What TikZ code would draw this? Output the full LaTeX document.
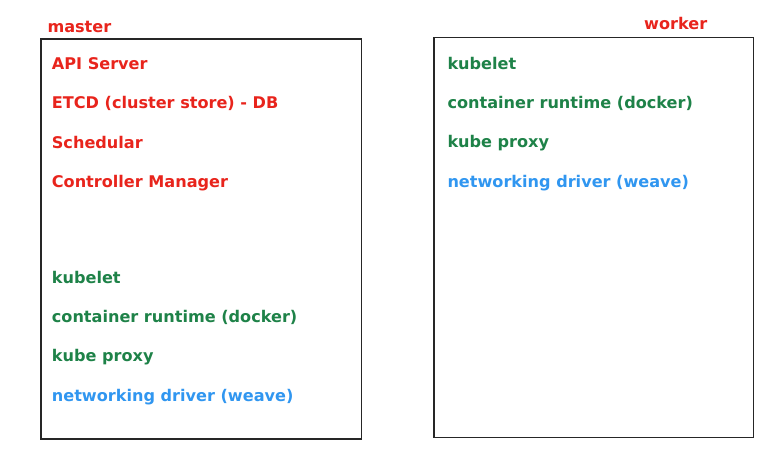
\documentclass[tikz,border=0pt]{standalone}
\usepackage{fontspec}
\setmainfont{DejaVu Sans}
\definecolor{kred}{RGB}{232,36,28}
\definecolor{kgreen}{RGB}{30,130,72}
\definecolor{kblue}{RGB}{48,150,240}
\begin{document}
\begin{tikzpicture}[x=1pt,y=-1pt,
  txt/.style={anchor=base west,inner sep=0pt,font=\fontsize{16.1}{18}\selectfont\bfseries},
  rtxt/.style={txt,text=kred},
  gtxt/.style={txt,text=kgreen},
  btxt/.style={txt,text=kblue},
  nodebox/.style={draw=black!85,line width=1.8pt}]
\useasboundingbox (0,0) rectangle (782,466);
\draw[nodebox] (41,39.3) rectangle (361.5,439.3);
\draw[nodebox] (434,37.5) rectangle (753.5,437.5);
\node[rtxt] (mlabel) at (47.3,32.7) {master};
\node[rtxt] (wlabel) at (644,29) {worker};
\node[rtxt] (api) at (51.7,69.5) {API Server};
\node[rtxt] (etcd) at (51.7,108.8) {ETCD (cluster store) - DB};
\node[rtxt] (sched) at (51.7,148.1) {Schedular};
\node[rtxt] (cm) at (51.7,187.4) {Controller Manager};
\node[gtxt] (mk) at (51.7,283.3) {kubelet};
\node[gtxt] (mcr) at (51.7,322.6) {container runtime (docker)};
\node[gtxt] (mkp) at (51.7,361.9) {kube proxy};
\node[btxt] (mnd) at (51.7,401.2) {networking driver (weave)};
\node[gtxt] (wk) at (447.3,69.3) {kubelet};
\node[gtxt] (wcr) at (447.3,108.6) {container runtime (docker)};
\node[gtxt] (wkp) at (447.3,147.9) {kube proxy};
\node[btxt] (wnd) at (447.3,187.2) {networking driver (weave)};
\end{tikzpicture}
\end{document}
